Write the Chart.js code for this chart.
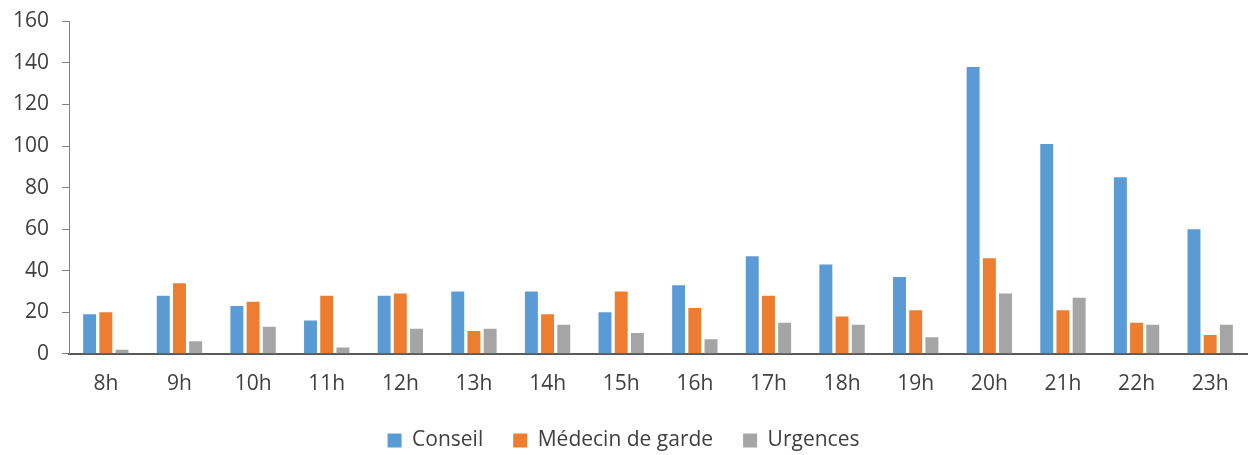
<!DOCTYPE html>
<html>
<head>
<meta charset="utf-8">
<script src="https://cdn.jsdelivr.net/npm/chart.js@4"></script>
<style>
  body { margin: 0; background: #fff; }
  #wrap { width: 1252px; height: 455px; }
</style>
</head>
<body>
<div id="wrap"><canvas id="chart"></canvas></div>
<script>
(function(){
  'use strict';

  // hours of the day
  let hours = ['8h','9h','10h','11h','12h','13h','14h','15h','16h','17h','18h','19h','20h','21h','22h','23h'];

  let conseil  = [19, 28, 23, 16, 28, 30, 30, 20, 33, 47, 43, 37, 138, 101, 85, 60];
  let medecin  = [20, 34, 25, 28, 29, 11, 19, 30, 22, 28, 18, 21, 46, 21, 15, 9];
  let urgences = [2, 6, 13, 3, 12, 12, 14, 10, 7, 15, 14, 8, 29, 27, 14, 14];

  let textColor = '#404040';
  let fontFamily = '"Open Sans", sans-serif';

  let data = {
    labels: hours,
    datasets: [
      { label: 'Conseil', data: conseil, backgroundColor: '#5B9BD5' },
      { label: 'Médecin de garde', data: medecin, backgroundColor: '#ED7D31' },
      { label: 'Urgences', data: urgences, backgroundColor: '#A5A5A5' }
    ]
  };

  let options = {
    responsive: true,
    maintainAspectRatio: false,
    animation: false,
    layout: { padding: { left: 0, right: 5, top: 2, bottom: -6 } },
    datasets: {
      bar: { categoryPercentage: 0.66, barPercentage: 0.8 }
    },
    scales: {
      x: {
        grid: { display: false },
        border: { display: true, color: '#595959', width: 2 },
        ticks: { color: textColor, font: { family: fontFamily, size: 21 }, padding: 10 },
        // let the legend sit closer to the tick labels
        afterFit: function(scale) { scale.height -= 7; }
      },
      y: {
        min: 0,
        max: 160,
        ticks: { stepSize: 20, color: textColor, font: { family: fontFamily, size: 21, lineHeight: 0.8 }, padding: 13 },
        grid: { drawOnChartArea: false, tickLength: 7, color: '#808080' },
        border: { display: true, color: '#808080', width: 1 }
      }
    },
    plugins: {
      legend: {
        position: 'bottom',
        labels: {
          boxWidth: 14,
          boxHeight: 14,
          padding: 30,
          color: textColor,
          font: { family: fontFamily, size: 21 }
        }
      },
      tooltip: { enabled: false }
    }
  };

  new Chart(document.getElementById('chart'), {
    type: 'bar',
    data: data,
    options: options
  });
})();
</script>
</body>
</html>
